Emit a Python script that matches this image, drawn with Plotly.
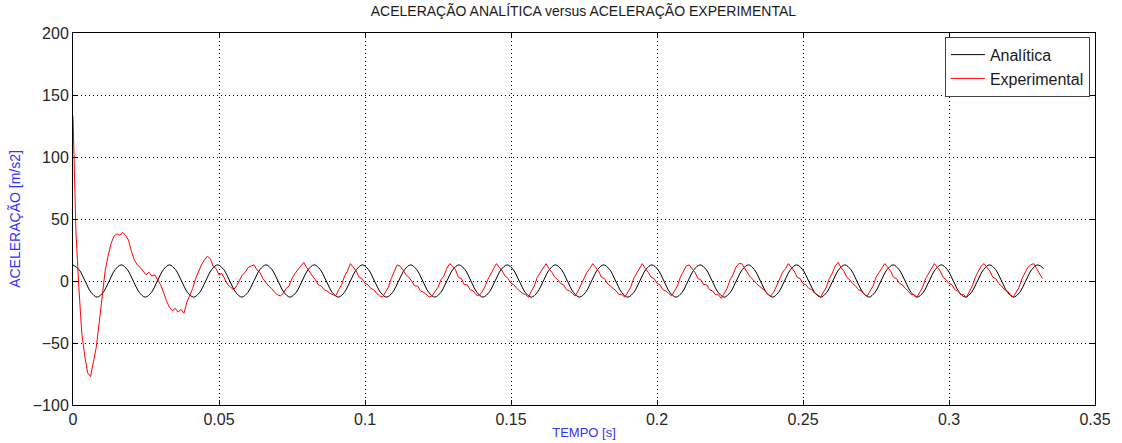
"""
Aceleração analítica versus aceleração experimental (MATLAB-style chart).
"""
import numpy as np
import plotly.graph_objects as go

# analytic acceleration, one value every 1/8 of a period (period ~0.01652 s)
ANA_STEP = 0.01652 / 8
ana_acc = [
    13, 9.2, 0, -9.2, -13, -9.2, 0, 9.2,
    13, 9.2, 0, -9.2, -13, -9.2, 0, 9.2,
    13, 9.2, 0, -9.2, -13, -9.2, 0, 9.2,
    13, 9.2, 0, -9.2, -13, -9.2, 0, 9.2,
    13, 9.2, 0, -9.2, -13, -9.2, 0, 9.2,
    13, 9.2, 0, -9.2, -13, -9.2, 0, 9.2,
    13, 9.2, 0, -9.2, -13, -9.2, 0, 9.2,
    13, 9.2, 0, -9.2, -13, -9.2, 0, 9.2,
    13, 9.2, 0, -9.2, -13, -9.2, 0, 9.2,
    13, 9.2, 0, -9.2, -13, -9.2, 0, 9.2,
    13, 9.2, 0, -9.2, -13, -9.2, 0, 9.2,
    13, 9.2, 0, -9.2, -13, -9.2, 0, 9.2,
    13, 9.2, 0, -9.2, -13, -9.2, 0, 9.2,
    13, 9.2, 0, -9.2, -13, -9.2, 0, 9.2,
    13, 9.2, 0, -9.2, -13, -9.2, 0, 9.2,
    13, 9.2, 0, -9.2, -13, -9.2, 0, 9.2,
    13, 9.2, 0, -9.2, -13, -9.2, 0, 9.2,
    13, 9.2, 0, -9.2, -13, -9.2, 0, 9.2,
    13, 9.2, 0, -9.2, -13, -9.2, 0, 9.2,
    13, 9.2, 0, -9.2, -13, -9.2, 0, 9.2,
    13, 10,
]

# experimental acceleration, sampled every 1 ms
EXP_STEP = 0.001
exp_acc = [
    133, 40, -5, -42, -60, -74, -77, -64, -53, -33,
    -13, 8, 20, 30, 36, 38, 37, 39, 37, 33,
    24, 17, 13, 11, 8, 5, 7, 4, 5, 1,
    -3, -9, -16, -21, -24, -22, -25, -23, -26, -17,
    -12, -6, 2, 8, 13, 17, 20, 18, 12, 10,
    5, 6, 2, -3, -5, -7, -4, 0, 5, 7,
    11, 12, 13, 9, 7, 2, -1, -4, -6, -9,
    -11, -12, -10, -6, -4, 2, 6, 9, 12, 15,
    11, 7, 4, 1, -3, -4, -7, -8, -10, -11,
    -12, -7, -3, 4, 8, 14, 11, 8, 3, 2,
    -2, -3, -6, -7, -10, -12, -13, -9, -5, 2,
    7, 13, 12, 9, 5, 3, 0, -4, -4, -8,
    -9, -11, -13, -12, -8, -5, 1, 4, 10, 14,
    12, 9, 3, 2, -3, -3, -7, -8, -11, -12,
    -9, -5, 1, 5, 10, 14, 11, 8, 4, 2,
    -2, -3, -6, -8, -10, -11, -13, -8, -4, 3,
    7, 11, 14, 10, 7, 3, 1, -2, -3, -7,
    -8, -10, -12, -8, -3, 1, 7, 10, 14, 11,
    8, 3, 2, -2, -4, -6, -8, -11, -11, -13,
    -9, -5, 2, 6, 11, 14, 10, 7, 3, 2,
    -2, -3, -7, -8, -10, -12, -8, -4, 3, 7,
    12, 13, 10, 7, 2, 1, -3, -3, -7, -8,
    -11, -11, -14, -10, -6, 1, 5, 11, 14, 14,
    10, 7, 3, 1, -2, -4, -6, -8, -11, -12,
    -9, -4, 1, 7, 10, 14, 11, 8, 3, 2,
    -2, -3, -6, -7, -10, -11, -13, -9, -5, 2,
    6, 12, 15, 11, 8, 3, 1, -2, -4, -7,
    -8, -11, -12, -8, -4, 3, 7, 11, 14, 11,
    8, 3, 2, -2, -3, -6, -8, -11, -11, -13,
    -9, -5, 2, 6, 11, 14, 11, 8, 3, 1,
    -2, -3, -7, -8, -11, -11, -13, -8, -4, 3,
    7, 12, 14, 11, 8, 3, 2, -2, -4, -7,
    -8, -11, -13, -9, -5, 2, 6, 11, 13, 14,
    10, 6, 2,
]

X_TICKS = [0, 0.05, 0.1, 0.15, 0.2, 0.25, 0.3, 0.35]
X_LABELS = ["0", "0.05", "0.1", "0.15", "0.2", "0.25", "0.3", "0.35"]
Y_TICKS = [-100, -50, 0, 50, 100, 150, 200]

FONT = "Arial, 'Liberation Sans', sans-serif"

t_ana = np.arange(len(ana_acc)) * ANA_STEP
t_exp = np.arange(len(exp_acc)) * EXP_STEP

fig = go.Figure()
fig.add_trace(go.Scatter(
    x=t_ana, y=ana_acc, mode="lines", name="Analítica",
    line=dict(color="#000000", width=1, shape="spline"),
))
fig.add_trace(go.Scatter(
    x=t_exp, y=exp_acc, mode="lines", name="Experimental",
    line=dict(color="#ff0000", width=1),
))

axis_common = dict(
    showline=True, linecolor="#000000", linewidth=1, mirror="ticks",
    ticks="inside", ticklen=5, tickcolor="#000000",
    showgrid=True, gridcolor="#000000", gridwidth=1, griddash="1px,3px",
    zeroline=False,
    tickfont=dict(family=FONT, size=16, color="#262626"),
)

fig.update_xaxes(
    **axis_common, range=[0, 0.35], tickvals=X_TICKS, ticktext=X_LABELS,
    title=dict(text="TEMPO [s]", font=dict(family=FONT, size=13, color="#3333ff"),
               standoff=0),
)
fig.update_yaxes(
    **axis_common, range=[-100, 200], tickvals=Y_TICKS,
    title=dict(text="ACELERAÇÃO [m/s2]", font=dict(family=FONT, size=14, color="#3333ff"),
               standoff=8),
)

fig.update_layout(
    width=1122, height=443,
    paper_bgcolor="#ffffff", plot_bgcolor="#ffffff",
    margin=dict(l=73, r=27, t=33, b=38, autoexpand=False),
    title=dict(text="ACELERAÇÃO ANALÍTICA versus ACELERAÇÃO EXPERIMENTAL",
               x=0.52, xanchor="center", y=0.985, yanchor="top",
               font=dict(family=FONT, size=14, color="#1a1a1a")),
    legend=dict(x=0.995, xanchor="right", y=0.99, yanchor="top",
                bgcolor="#ffffff", bordercolor="#404040", borderwidth=1,
                font=dict(family=FONT, size=16, color="#1a1a1a"),
                tracegroupgap=0, itemwidth=34),
    showlegend=True,
)

fig.write_html("out.html", config={"displayModeBar": False},
               post_script="document.body.style.margin='0';")
